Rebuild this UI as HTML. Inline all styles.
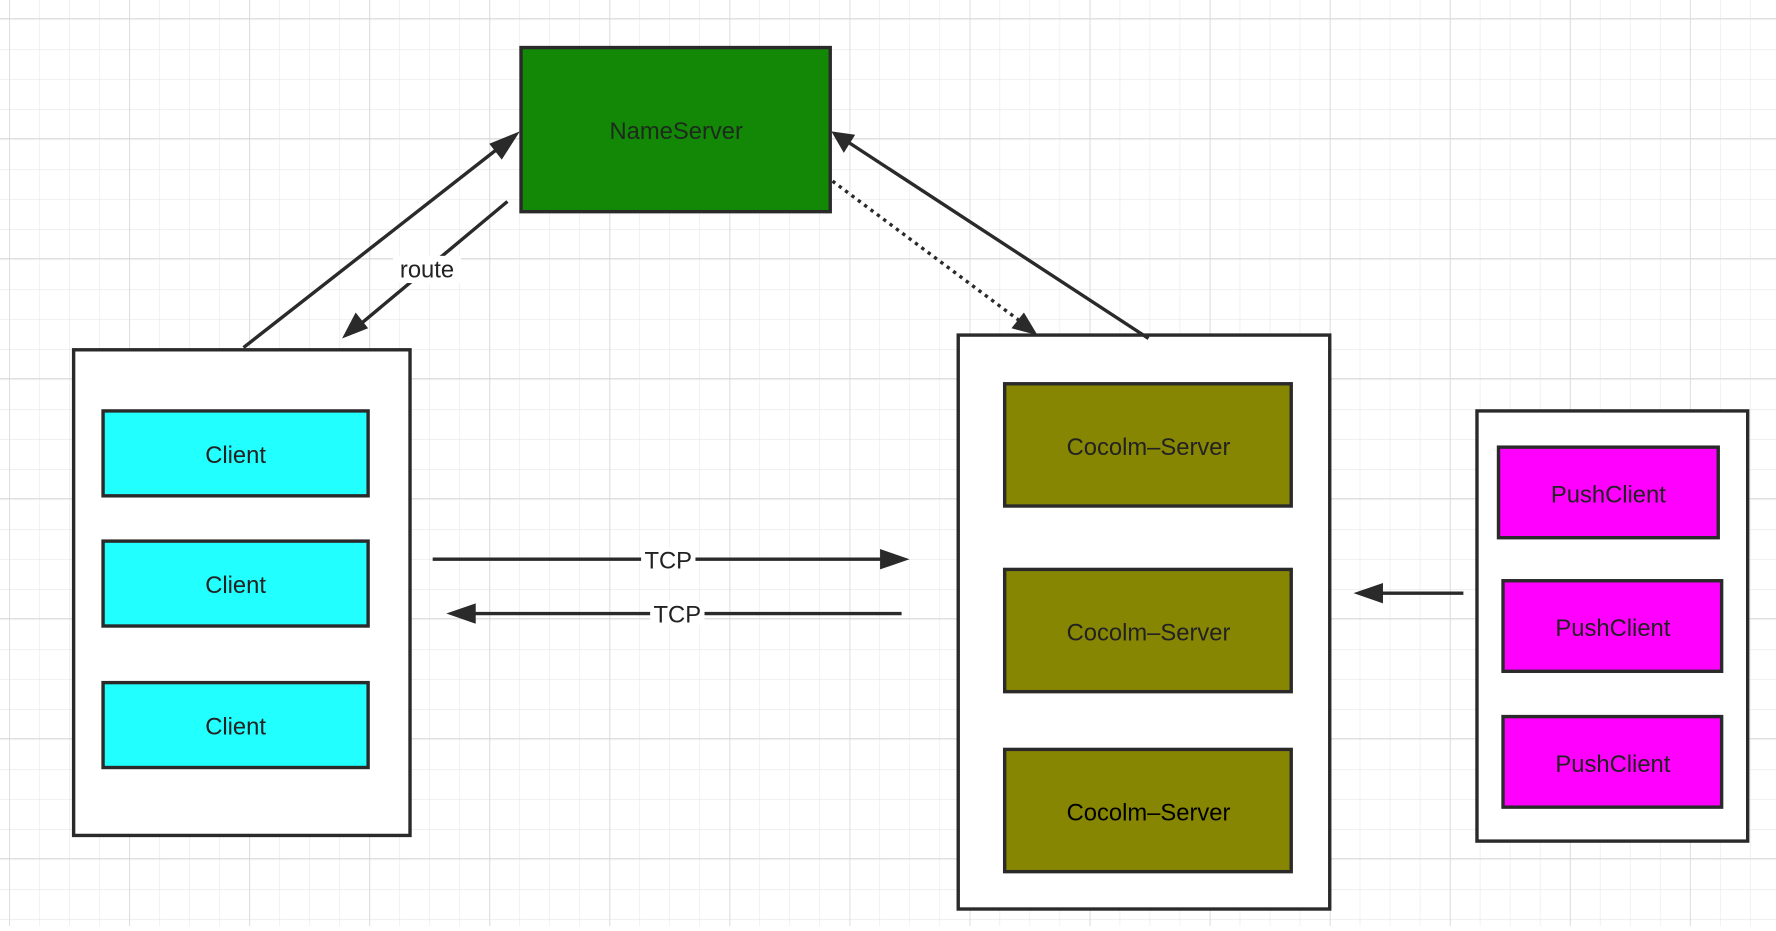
<!DOCTYPE html>
<html><head><style>html,body{margin:0;padding:0;background:#fff;overflow:hidden}</style></head>
<body>
<svg width="1776" height="926" viewBox="0 0 1568 818" preserveAspectRatio="none" xmlns="http://www.w3.org/2000/svg" font-family="Liberation Sans, sans-serif">
<defs>
<pattern id="g" x="8" y="17" width="26.5" height="26.5" patternUnits="userSpaceOnUse">
<path d="M0 0H26.5M0 0V26.5" stroke="#e6e6e6" stroke-width="1" fill="none"/>
</pattern>
<pattern id="G" x="8" y="122" width="106" height="106" patternUnits="userSpaceOnUse">
<path d="M0 0H106M0 0V106" stroke="#d9d9d9" stroke-width="1.5" fill="none"/>
</pattern>
<marker id="a" markerWidth="10" markerHeight="10" refX="9" refY="5" orient="auto" markerUnits="userSpaceOnUse" viewBox="0 0 10 10">
</marker>
</defs>
<rect width="1568" height="818" fill="#fff"/>
<rect width="1568" height="818" fill="url(#g)"/>
<rect width="1568" height="818" fill="url(#G)"/>

<g stroke="#2a2a2a" stroke-width="3">
<rect x="460" y="42" width="273" height="145" fill="#128806"/>
<rect x="65" y="309" width="297" height="429" fill="#fff"/>
<rect x="91" y="363" width="234" height="75" fill="#22ffff"/>
<rect x="91" y="478" width="234" height="75" fill="#22ffff"/>
<rect x="91" y="603" width="234" height="75" fill="#22ffff"/>
<rect x="846" y="296" width="328" height="507" fill="#fff"/>
<rect x="887" y="339" width="253" height="108" fill="#878603"/>
<rect x="887" y="503" width="253" height="108" fill="#878603"/>
<rect x="887" y="662" width="253" height="108" fill="#878603"/>
<rect x="1304" y="363" width="239" height="380" fill="#fff"/>
<rect x="1323" y="395" width="194" height="80" fill="#ff00ff"/>
<rect x="1327" y="513" width="193" height="80" fill="#ff00ff"/>
<rect x="1327" y="633" width="193" height="80" fill="#ff00ff"/>
</g>

<g stroke="#2a2a2a" stroke-width="3" fill="none">
<line x1="215" y1="307" x2="445" y2="127"/>
<line x1="448" y1="178" x2="315" y2="289"/>
<line x1="1014" y1="299" x2="748" y2="125"/>
<line x1="735" y1="160" x2="905" y2="287" stroke-dasharray="3,4"/>
<line x1="382" y1="494" x2="785" y2="494"/>
<line x1="796" y1="542" x2="412" y2="542"/>
<line x1="1292" y1="524" x2="1212" y2="524"/>
</g>
<g fill="#2a2a2a">
<polygon points="459,116 443,141 432,127"/>
<polygon points="302,299 314,276 325,290"/>
<polygon points="734,116 755,119 745,135"/>
<polygon points="916,296 893,290 904,276"/>
<polygon points="803,494 777,485 777,503"/>
<polygon points="394,542 420,533 420,551"/>
<polygon points="1195,524 1221,515 1221,533"/>
</g>
<rect x="347" y="226" width="60" height="24" fill="#fff"/>
<rect x="566" y="484" width="48" height="20" fill="#fff"/>
<rect x="574" y="532" width="48" height="20" fill="#fff"/>

<g font-size="21" text-anchor="middle" fill="#222">
<text x="597" y="123" fill="#1d2a1d">NameServer</text>
<text x="377" y="245">route</text>
<text x="590" y="502">TCP</text>
<text x="598" y="550">TCP</text>
<text x="208" y="409">Client</text>
<text x="208" y="524">Client</text>
<text x="208" y="649">Client</text>
<text x="1014" y="402">Cocolm–Server</text>
<text x="1014" y="566">Cocolm–Server</text>
<text x="1014" y="725" fill="#000">Cocolm–Server</text>
<text x="1420" y="444">PushClient</text>
<text x="1424" y="562">PushClient</text>
<text x="1424" y="682">PushClient</text>
</g>
</svg>
</body></html>
